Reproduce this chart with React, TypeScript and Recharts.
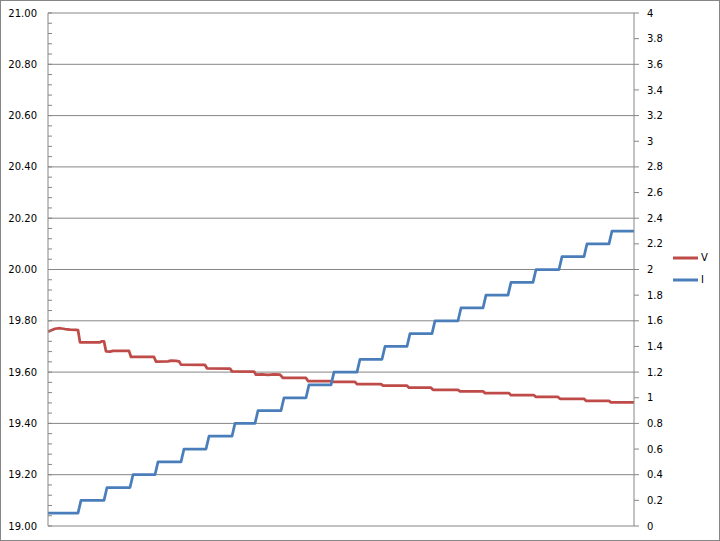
import React from 'react';
import { LineChart, Line, XAxis, YAxis, CartesianGrid, Legend } from 'recharts';

// Time index (arbitrary sample units) and measured values
const vTime = [0, 4, 7, 12, 17, 22, 28, 30, 32, 52, 54, 56, 58, 62, 65, 81, 83, 106, 108, 120, 123, 128, 131, 133, 157, 159, 182, 184, 206, 208, 214, 220, 226, 232, 235, 258, 260, 282, 284, 307, 309, 333, 335, 359, 361, 383, 385, 410, 412, 435, 437, 461, 463, 486, 488, 510, 512, 536, 538, 561, 563, 586];
const vValues = [19.757, 19.764, 19.769, 19.771, 19.768, 19.766, 19.765, 19.764, 19.716, 19.716, 19.72, 19.72, 19.681, 19.68, 19.683, 19.683, 19.659, 19.659, 19.641, 19.642, 19.645, 19.644, 19.642, 19.629, 19.628, 19.615, 19.614, 19.603, 19.602, 19.59, 19.591, 19.589, 19.591, 19.59, 19.577, 19.577, 19.565, 19.565, 19.562, 19.562, 19.553, 19.553, 19.547, 19.547, 19.539, 19.539, 19.531, 19.531, 19.525, 19.525, 19.518, 19.518, 19.51, 19.51, 19.503, 19.503, 19.496, 19.496, 19.488, 19.488, 19.482, 19.482];

const iTime = [0, 30, 33, 56, 59, 82, 85, 107, 110, 133, 136, 158, 161, 184, 187, 207, 210, 233, 236, 258, 261, 283, 286, 309, 312, 334, 337, 359, 362, 384, 387, 410, 413, 435, 438, 460, 463, 485, 488, 511, 514, 536, 539, 561, 564, 586];
const iValues = [0.1, 0.1, 0.2, 0.2, 0.3, 0.3, 0.4, 0.4, 0.5, 0.5, 0.6, 0.6, 0.7, 0.7, 0.8, 0.8, 0.9, 0.9, 1.0, 1.0, 1.1, 1.1, 1.2, 1.2, 1.3, 1.3, 1.4, 1.4, 1.5, 1.5, 1.6, 1.6, 1.7, 1.7, 1.8, 1.8, 1.9, 1.9, 2.0, 2.0, 2.1, 2.1, 2.2, 2.2, 2.3, 2.3];

const vTicks = [19.0, 19.2, 19.4, 19.6, 19.8, 20.0, 20.2, 20.4, 20.6, 20.8, 21.0];
const iTicks = [0, 0.2, 0.4, 0.6, 0.8, 1, 1.2, 1.4, 1.6, 1.8, 2, 2.2, 2.4, 2.6, 2.8, 3, 3.2, 3.4, 3.6, 3.8, 4];
const vMinorTicks = vTicks.slice(0, -1).flatMap((t, k) =>
  [0, 1, 2, 3, 4].map((j) => +(t + ((vTicks[k + 1] - t) * j) / 5).toFixed(2))
).concat([vTicks[vTicks.length - 1]]);

const vData = vTime.map((t, k) => ({ t, v: vValues[k] }));
const iData = iTime.map((t, k) => ({ t, i: iValues[k] }));

const FONT = 'DejaVu Sans, Verdana, sans-serif';
const GRAY = '#868686';
const RED = '#BE4B48';
const BLUE = '#4A7EBB';

function LeftTick(props: any) {
  const { x, y, payload } = props;
  const v = payload.value as number;
  const isMajor = vTicks.some((t) => Math.abs(t - v) < 1e-6);
  return (
    <g>
      <line x1={x} x2={x + 4} y1={y} y2={y} stroke={GRAY} strokeWidth={1} />
      {isMajor && (
        <text x={x - 11} y={y} dy="0.355em" textAnchor="end" fontSize={10} fontFamily={FONT} fill="#000">
          {v.toFixed(2)}
        </text>
      )}
    </g>
  );
}

function LegendContent() {
  const items = [
    { name: 'V', color: RED },
    { name: 'I', color: BLUE },
  ];
  return (
    <div style={{ fontFamily: FONT, fontSize: 10, color: '#000' }}>
      {items.map((it) => (
        <div key={it.name} style={{ display: 'flex', alignItems: 'center', height: 22 }}>
          <svg width={26} height={6} style={{ display: 'block' }}>
            <line x1={0} x2={25} y1={3} y2={3} stroke={it.color} strokeWidth={3} />
          </svg>
          <span style={{ marginLeft: 2, lineHeight: '10px' }}>{it.name}</span>
        </div>
      ))}
    </div>
  );
}

export default function App() {
  return (
    <div
      style={{
        position: 'absolute',
        left: 0,
        top: 0,
        width: 720,
        height: 541,
        border: `1px solid ${GRAY}`,
        boxSizing: 'border-box',
        background: '#fff',
      }}
    >
      <LineChart width={718} height={539} margin={{ top: 12, right: 45, bottom: 14, left: 0 }}>
        <XAxis type="number" dataKey="t" domain={[0, 586]} hide allowDataOverflow />
        <YAxis
          yAxisId="v"
          orientation="left"
          type="number"
          domain={[19, 21]}
          ticks={vMinorTicks}
          interval={0}
          width={47}
          tickSize={0}
          tickMargin={0}
          tickLine={false}
          axisLine={{ stroke: GRAY, strokeWidth: 1 }}
          tick={<LeftTick />}
          allowDataOverflow
        />
        <YAxis
          yAxisId="grid"
          orientation="left"
          type="number"
          domain={[19, 21]}
          ticks={vTicks}
          width={0}
          hide
          allowDataOverflow
        />
        <YAxis
          yAxisId="i"
          orientation="right"
          type="number"
          domain={[0, 4]}
          ticks={iTicks}
          interval={0}
          width={40}
          tickSize={5}
          tickMargin={8}
          tickLine={{ stroke: GRAY }}
          axisLine={{ stroke: GRAY, strokeWidth: 1 }}
          tick={{ fontSize: 10, fontFamily: FONT, fill: '#000', textAnchor: 'start' }}
          tickFormatter={(v: number) => String(+v.toFixed(1))}
          allowDataOverflow
        />
        <CartesianGrid yAxisId="grid" vertical={false} stroke={GRAY} strokeWidth={1} />
        <Line
          yAxisId="v"
          data={vData}
          dataKey="v"
          name="V"
          type="linear"
          stroke={RED}
          strokeWidth={2.75}
          dot={false}
          activeDot={false}
          isAnimationActive={false}
          strokeLinejoin="round"
        />
        <Line
          yAxisId="i"
          data={iData}
          dataKey="i"
          name="I"
          type="linear"
          stroke={BLUE}
          strokeWidth={2.75}
          dot={false}
          activeDot={false}
          isAnimationActive={false}
          strokeLinejoin="round"
        />
        <Legend
          layout="horizontal"
          verticalAlign="middle"
          align="center"
          content={<LegendContent />}
          wrapperStyle={{ left: 672, top: 246, width: 'auto', height: 'auto' }}
        />
      </LineChart>
    </div>
  );
}
